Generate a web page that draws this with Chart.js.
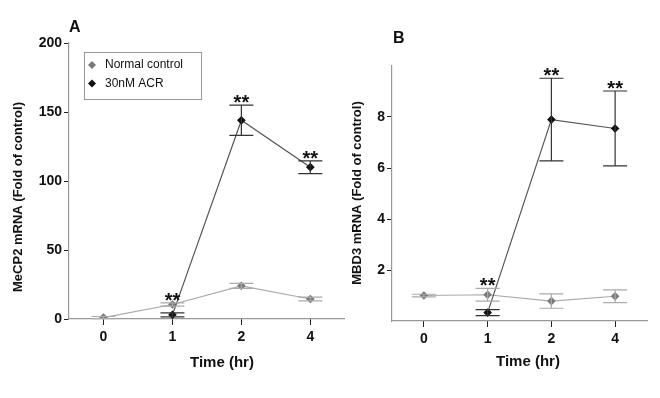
<!DOCTYPE html>
<html>
<head>
<meta charset="utf-8">
<script src="https://cdn.jsdelivr.net/npm/chart.js@4.4.1/dist/chart.umd.min.js"></script>
<style>
  body { margin: 0; background: #fff; }
  #wrap { position: relative; width: 660px; height: 398px; }
  canvas { position: absolute; top: 0; }
  #chartA { left: 0; }
  #chartB { left: 345px; }
</style>
</head>
<body>
<div id="wrap">
  <canvas id="chartA" width="350" height="398"></canvas>
  <canvas id="chartB" width="315" height="398"></canvas>
</div>
<script>
// time points (hr)
var times = ['0', '1', '2', '4'];

// panel A - MeCP2
var ctrlA = [1, 10.5, 24, 14.5];
var ctrlAErr = [0.8, 1.2, 1.8, 1.3];
var acrA = [null, 3, 144, 110];
var acrAErr = [null, 1.5, 11, 4.6];
var sigA = ['', '**', '**', '**'];
var ticksA = [0, 50, 100, 150, 200];

// panel B - MBD3
var ctrlB = [1.0, 1.03, 0.78, 0.97];
var ctrlBErr = [0.05, 0.25, 0.28, 0.25];
var acrB = [null, 0.33, 7.9, 7.55];
var acrBErr = [null, 0.12, 1.62, 1.47];
var sigB = ['', '**', '**', '**'];
var ticksB = [2, 4, 6, 8];

var FONT = 'Liberation Sans, Arial, sans-serif';

// error bars, stars, panel letter, axis titles, legend
var extras = {
  id: 'extras',
  afterDatasetsDraw: function (chart) {
    var ctx = chart.ctx;
    var y = chart.scales.y;
    var x = chart.scales.x;
    var o = chart.options.plugins.extras;
    ctx.save();
    chart.data.datasets.forEach(function (ds) {
      ctx.strokeStyle = ds.errColor;
      ctx.lineWidth = 1.2;
      ds.data.forEach(function (v, i) {
        if (v === null) return;
        var e = ds.err[i];
        var px = x.getPixelForValue(i);
        var top = y.getPixelForValue(v + e);
        var bot = y.getPixelForValue(v - e);
        ctx.beginPath();
        ctx.moveTo(px, top); ctx.lineTo(px, bot);
        ctx.moveTo(px - 12, top); ctx.lineTo(px + 12, top);
        ctx.moveTo(px - 12, bot); ctx.lineTo(px + 12, bot);
        ctx.stroke();
      });
    });
    // significance stars
    ctx.fillStyle = '#111';
    ctx.font = 'bold 20px ' + FONT;
    ctx.textAlign = 'center';
    ctx.textBaseline = 'alphabetic';
    o.sig.forEach(function (s, i) {
      if (!s) return;
      var hi = -Infinity;
      chart.data.datasets.forEach(function (ds) {
        if (ds.data[i] !== null) hi = Math.max(hi, ds.data[i] + ds.err[i]);
      });
      ctx.fillText(s, x.getPixelForValue(i), y.getPixelForValue(hi) - 7 + 11);
    });
    // panel letter
    ctx.font = 'bold 16px ' + FONT;
    ctx.textAlign = 'left';
    ctx.textBaseline = 'middle';
    ctx.fillText(o.letter, o.letterX, o.letterY);
    // axis titles
    ctx.textAlign = 'center';
    ctx.font = 'bold 15px ' + FONT;
    ctx.fillText(o.xTitle, o.xTitleX, o.xTitleY);
    ctx.save();
    ctx.translate(o.yTitleX, o.yTitleY);
    ctx.rotate(-Math.PI / 2);
    ctx.font = 'bold 13px ' + FONT;
    ctx.fillText(o.yTitle, 0, 0);
    ctx.restore();
    // legend box
    if (o.legend) {
      var L = o.legend;
      ctx.textAlign = 'left';
      ctx.strokeStyle = '#999';
      ctx.lineWidth = 1;
      ctx.strokeRect(L.x + 0.5, L.y + 0.5, L.w, L.h);
      ctx.font = '12px ' + FONT;
      chart.data.datasets.slice().reverse().forEach(function (ds, k) {
        var cy = L.y + 13 + k * 18.5;
        ctx.fillStyle = ds.pointBackgroundColor;
        ctx.beginPath();
        ctx.moveTo(L.x + 8, cy - 4); ctx.lineTo(L.x + 12, cy);
        ctx.lineTo(L.x + 8, cy + 4); ctx.lineTo(L.x + 4, cy);
        ctx.closePath();
        ctx.fill();
        ctx.fillStyle = '#111';
        ctx.fillText(ds.label, L.x + 21, cy);
      });
    }
    ctx.restore();
  }
};

function makeChart(id, ctrl, ctrlErr, acr, acrErr, opt) {
  return new Chart(document.getElementById(id), {
    type: 'line',
    data: {
      labels: times,
      datasets: [{
        label: '30nM ACR',
        data: acr,
        err: acrErr,
        errColor: '#333',
        borderColor: '#555',
        borderWidth: 1.2,
        pointStyle: 'rectRot',
        pointRadius: 3.5,
        pointBackgroundColor: '#111',
        pointBorderColor: '#111',
        spanGaps: false,
        order: 0
      }, {
        label: 'Normal control',
        data: ctrl,
        err: ctrlErr,
        errColor: '#aaa',
        borderColor: '#aaa',
        borderWidth: 1.2,
        pointStyle: 'rectRot',
        pointRadius: 3.5,
        pointBackgroundColor: '#7a7a7a',
        pointBorderColor: '#7a7a7a',
        order: 1
      }]
    },
    options: {
      responsive: false,
      animation: false,
      layout: {padding: {top: opt.top, right: opt.right, left: 0, bottom: 0}},
      plugins: {
        legend: {display: false},
        tooltip: {enabled: false},
        extras: opt.extras
      },
      scales: {
        x: {
          offset: true,
          grid: {drawOnChartArea: false, tickLength: 6, color: '#222'},
          border: {color: '#999', width: 1.2},
          ticks: {color: '#111', padding: 4, font: {family: FONT, size: 14, weight: 'bold'}},
          afterFit: function (s) { s.height = opt.xH; }
        },
        y: {
          min: opt.min,
          max: opt.max,
          afterBuildTicks: function (s) {
            s.ticks = opt.ticks.map(function (v) { return {value: v}; });
          },
          grid: {drawOnChartArea: false, tickLength: 5, color: '#222'},
          border: {color: '#999', width: 1.2},
          ticks: {color: '#111', padding: 2, font: {family: FONT, size: 14, weight: 'bold'}},
          afterFit: function (s) { s.width = opt.yW; }
        }
      }
    },
    plugins: [extras]
  });
}

makeChart('chartA', ctrlA, ctrlAErr, acrA, acrAErr, {
  top: 43, right: 3, xH: 79, yW: 69, min: 0, max: 200, ticks: ticksA,
  extras: {sig: sigA, letter: 'A', letterX: 69, letterY: 28,
    xTitle: 'Time (hr)', xTitleX: 222, xTitleY: 363,
    yTitle: 'MeCP2 mRNA (Fold of control)', yTitleX: 18, yTitleY: 197,
    legend: {x: 84, y: 52, w: 117, h: 47}}
});

makeChart('chartB', ctrlB, ctrlBErr, acrB, acrBErr, {
  top: 66, right: 13, xH: 77, yW: 47, min: 0, max: 10, ticks: ticksB,
  extras: {sig: sigB, letter: 'B', letterX: 48, letterY: 39,
    xTitle: 'Time (hr)', xTitleX: 183, xTitleY: 362,
    yTitle: 'MBD3 mRNA (Fold of control)', yTitleX: 12, yTitleY: 193,
    legend: null}
});
</script>
</body>
</html>
